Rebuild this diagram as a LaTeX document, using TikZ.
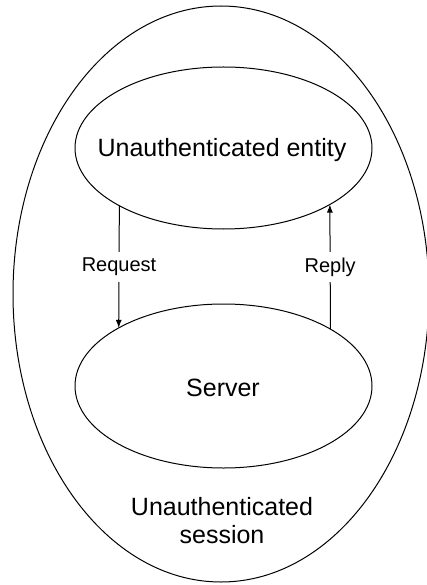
\documentclass[tikz,border=0pt]{standalone}
\usepackage{fontspec}
\setmainfont{Liberation Sans}
\usetikzlibrary{shapes.geometric,arrows.meta}

\begin{document}
\begin{tikzpicture}[x=1pt,y=-1pt,
  oval/.style={ellipse,draw,line width=1pt,inner sep=0pt,outer sep=0pt},
  bigtxt/.style={font=\fontsize{25}{28}\selectfont,inner sep=0pt,align=center},
  lbl/.style={fill=white,inner sep=0pt,minimum width=95pt,minimum height=30pt,
              font=\fontsize{20}{24}\selectfont},
  arr/.style={line width=1pt,-{Latex[length=8pt,width=6pt]}}]
  \useasboundingbox (0,0) rectangle (427,585);

  % session boundary
  \node[oval,minimum width=416pt,minimum height=576pt] (sess) at (221,294) {};

  % the two parties
  \node[oval,minimum width=297pt,minimum height=162pt] (ent) at (223.5,148) {};
  \node[oval,minimum width=297pt,minimum height=164pt] (srv) at (223.5,386) {};

  \node[bigtxt,anchor=base] (enttxt) at (222,157) {Unauthenticated entity};
  \node[bigtxt,anchor=base] (srvtxt) at (223,396) {Server};
  % base anchor of a two-line node sits on the last line
  \node[bigtxt,anchor=base] (sesstxt) at (222,543) {Unauthenticated\\session};

  % message flow
  \draw[arr] (ent.-151.6) -- node[lbl] (req) {Request} (srv.151.6);
  \draw[arr] (srv.28.4) -- node[lbl] (rep) {Reply} (ent.-28.4);
\end{tikzpicture}
\end{document}
